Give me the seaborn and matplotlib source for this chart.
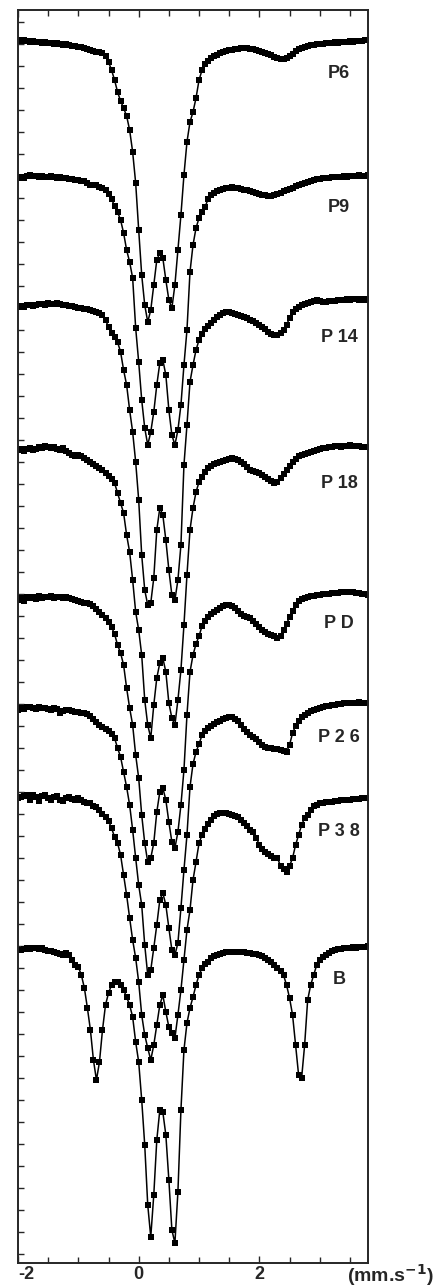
import numpy as np
import pandas as pd
import matplotlib
matplotlib.use("Agg")
import matplotlib.pyplot as plt
import seaborn as sns
from matplotlib.ticker import MultipleLocator

# velocity channels (mm/s)
velocity = np.linspace(-2.0, 3.8, 117)

samples = ["P6", "P9", "P14", "P18", "PD", "P26", "P38", "B"]
labels = ["P6", "P9", "P 14", "P 18", "P D", "P 2 6", "P 3 8", "B"]
# vertical shift of each spectrum (absorption units, downward)
offsets = [40, 178, 305, 450, 600, 708, 800, 950]
label_pos = [33, 29, 32, 33, 23, 29, 32, 30]

p6 = [0, 1, 0, 1, 2, 1, 2, 2, 3, 2,
      3, 3, 4, 3, 4, 5, 4, 5, 6, 6,
      7, 7, 8, 9, 10, 11, 12, 12, 13, 16,
      22, 30, 40, 52, 61, 68, 76, 90, 112, 143,
      190, 235, 265, 282, 270, 245, 220, 213, 218, 240,
      260, 268, 245, 210, 175, 135, 102, 82, 72, 58,
      40, 30, 24, 21, 18, 16, 15, 13, 12, 11,
      10, 10, 9, 9, 8, 8, 8, 9, 9, 10,
      11, 12, 13, 14, 15, 17, 18, 19, 19, 18,
      16, 14, 11, 9, 8, 7, 6, 5, 5, 4,
      4, 4, 3, 3, 3, 2, 3, 2, 2, 2,
      1, 2, 1, 1, 1, 0, 0]

p9 = [0, -1, 0, -2, -3, -2, -2, -1, -2, -1,
      -1, -2, -1, 0, -1, 0, 0, 1, 1, 2,
      2, 3, 3, 5, 7, 7, 7, 9, 10, 12,
      16, 21, 28, 34, 42, 55, 72, 84, 100, 150,
      184, 222, 250, 267, 254, 234, 207, 185, 182, 197,
      232, 257, 267, 252, 227, 187, 152, 94, 67, 50,
      40, 34, 29, 21, 17, 15, 13, 12, 11, 10,
      10, 9, 10, 10, 11, 12, 12, 13, 14, 15,
      16, 17, 17, 18, 18, 17, 16, 15, 13, 12,
      11, 10, 8, 7, 6, 5, 4, 3, 2, 1,
      1, 0, 0, 0, -1, -1, -1, -1, -2, -1,
      -2, -2, -2, -3, -2, -2, -3]

p14 = [2, 1, 2, 0, 0, 1, 0, -1, -1, 0,
       -2, -1, -1, -2, -1, 0, 0, 1, 1, 2,
       3, 3, 4, 4, 5, 6, 7, 8, 10, 15,
       22, 28, 32, 37, 47, 65, 80, 105, 127, 157,
       195, 250, 285, 300, 298, 273, 225, 203, 210, 235,
       265, 290, 295, 275, 240, 160, 120, 77, 60, 45,
       35, 29, 24, 21, 18, 15, 12, 10, 8, 7,
       7, 8, 9, 10, 11, 12, 13, 15, 16, 18,
       20, 22, 24, 27, 29, 30, 30, 28, 25, 20,
       13, 7, 4, 2, 0, -1, -2, -3, -4, -5,
       -4, -3, -3, -4, -4, -4, -5, -5, -5, -6,
       -5, -6, -6, -5, -6, -5, -6]

p18 = [0, -1, 1, -1, -2, 0, -1, -3, -2, -4,
       -3, -2, -3, -1, 0, -2, 1, 3, 5, 6,
       5, 6, 8, 10, 12, 14, 16, 18, 20, 23,
       26, 29, 33, 43, 53, 63, 85, 102, 130, 162,
       180, 205, 250, 275, 288, 255, 228, 213, 208, 222,
       253, 268, 275, 250, 220, 175, 125, 80, 58, 42,
       32, 27, 22, 18, 16, 14, 13, 12, 11, 10,
       9, 8, 9, 10, 12, 14, 17, 20, 21, 22,
       23, 25, 27, 29, 31, 33, 32, 28, 24, 20,
       16, 12, 9, 6, 5, 4, 3, 2, 1, 0,
       -1, -2, -2, -3, -3, -4, -4, -3, -4, -4,
       -5, -4, -4, -4, -3, -3, -3]

pd_ = [0, -2, 1, -3, -2, -3, -1, -4, -2, -3,
       -3, -4, -2, -3, -3, -2, -3, -2, -1, 0,
       1, 2, 3, 3, 4, 6, 9, 12, 15, 18,
       22, 27, 34, 45, 53, 65, 88, 108, 125, 155,
       178, 215, 243, 262, 258, 243, 212, 192, 188, 200,
       222, 242, 248, 232, 205, 170, 115, 72, 55, 44,
       36, 26, 21, 17, 14, 12, 10, 8, 6, 5,
       5, 6, 8, 11, 14, 16, 17, 18, 21, 24,
       27, 30, 32, 34, 35, 36, 38, 36, 30, 24,
       17, 11, 5, 1, -1, -2, -3, -4, -4, -5,
       -5, -6, -6, -6, -7, -7, -7, -8, -8, -8,
       -8, -8, -7, -7, -6, -6, -5]

p26 = [2, 0, 1, -1, -1, 0, 1, -1, 0, 0,
       1, 2, 0, 1, 5, 3, 2, 2, 3, 4,
       4, 5, 5, 6, 8, 11, 14, 17, 19, 21,
       23, 26, 30, 40, 49, 64, 79, 97, 122, 150,
       177, 197, 237, 267, 262, 240, 217, 192, 185, 197,
       220, 242, 247, 235, 200, 162, 127, 79, 56, 44,
       36, 27, 23, 20, 18, 16, 14, 13, 11, 10,
       9, 9, 11, 13, 17, 21, 24, 27, 29, 31,
       34, 37, 39, 40, 40, 41, 41, 42, 43, 44,
       37, 25, 18, 13, 9, 7, 5, 3, 2, 1,
       0, -1, -2, -2, -3, -3, -4, -4, -5, -5,
       -5, -5, -5, -6, -5, -5, -5]

p38 = [-2, -3, -4, -5, 0, -5, -3, 1, -4, -5,
       -2, 0, -3, -4, 0, 1, -2, -3, -1, 0,
       -2, 0, 2, 3, 3, 6, 7, 10, 14, 17,
       21, 28, 37, 43, 55, 75, 95, 118, 140, 158,
       182, 215, 235, 248, 260, 245, 225, 205, 195, 212,
       227, 233, 238, 215, 190, 160, 130, 110, 80, 62,
       43, 35, 29, 24, 20, 16, 14, 13, 13, 13,
       14, 15, 16, 17, 20, 23, 26, 30, 32, 38,
       45, 49, 52, 54, 56, 58, 58, 66, 69, 72,
       66, 58, 45, 35, 25, 18, 15, 10, 6, 5,
       3, 3, 2, 2, 2, 1, 1, 0, 0, 0,
       0, -1, -1, -1, -2, -2, -2]

b = [0, 0, -1, -2, -1, -2, -2, -1, -2, 0,
     1, 1, 2, 3, 4, 5, 3, 5, 10, 15,
     17, 25, 38, 58, 80, 110, 130, 112, 80, 55,
     43, 35, 32, 32, 35, 40, 47, 55, 67, 92,
     112, 150, 195, 255, 287, 245, 190, 160, 162, 185,
     230, 280, 293, 242, 160, 100, 73, 58, 47, 35,
     25, 18, 14, 12, 8, 6, 5, 4, 3, 2,
     2, 2, 2, 2, 2, 2, 3, 3, 4, 4,
     5, 6, 8, 10, 12, 15, 18, 21, 25, 35,
     48, 65, 95, 125, 128, 95, 50, 35, 25, 15,
     10, 7, 5, 3, 1, 0, -1, -1, -2, -2,
     -2, -3, -2, -3, -3, -3, -4]

spectra = [p6, p9, p14, p18, pd_, p26, p38, b]

rows = []
for name, off, vals in zip(samples, offsets, spectra):
    for v, a in zip(velocity, vals):
        rows.append({"sample": name, "velocity": v, "y": off + a})
df = pd.DataFrame(rows)

sns.set_style("ticks")
plt.rcParams["font.family"] = ["Liberation Sans", "DejaVu Sans"]

fig = plt.figure(figsize=(4.36, 12.86), dpi=100)
ax = fig.add_axes([18 / 436, 1 - 1263 / 1286, 350 / 436, 1253 / 1286])

for name in samples:
    sub = df[df["sample"] == name]
    sns.lineplot(data=sub, x="velocity", y="y", ax=ax, color="black",
                 lw=1.1, marker="s", markersize=4.0, markeredgewidth=0,
                 sort=False, estimator=None, legend=False)

for lab, off, lp in zip(labels, offsets, label_pos):
    ax.text(3.32, off + lp, lab, ha="center", va="center",
            fontsize=13, fontweight="bold")

ax.set_xlim(-2, 3.8)
ax.set_ylim(1263, 10)
ax.set_xlabel("")
ax.set_ylabel("")

ax.set_xticks([-2, 0, 2])
ax.set_xticklabels(["-2", "0", "2"], fontsize=13, fontweight="bold")
ax.get_xticklabels()[0].set_ha("left")
ax.xaxis.set_minor_locator(MultipleLocator(0.5))
ax.yaxis.set_major_locator(MultipleLocator(22))
ax.set_yticklabels([])
ax.tick_params(axis="x", which="both", direction="in", top=True,
               bottom=True, width=1.0, pad=2)
ax.tick_params(axis="x", which="major", length=5)
ax.tick_params(axis="x", which="minor", length=4)
ax.tick_params(axis="y", which="both", direction="in", left=True,
               right=False, length=4, width=1.0)
for s in ax.spines.values():
    s.set_linewidth(1.4)
    s.set_visible(True)

fig.text(390 / 436, 1 - 1275 / 1286, r"(mm.s$^{\mathbf{-1}}$)",
         ha="center", va="center", fontsize=14, fontweight="bold")

fig.savefig("out.png", dpi=100)
